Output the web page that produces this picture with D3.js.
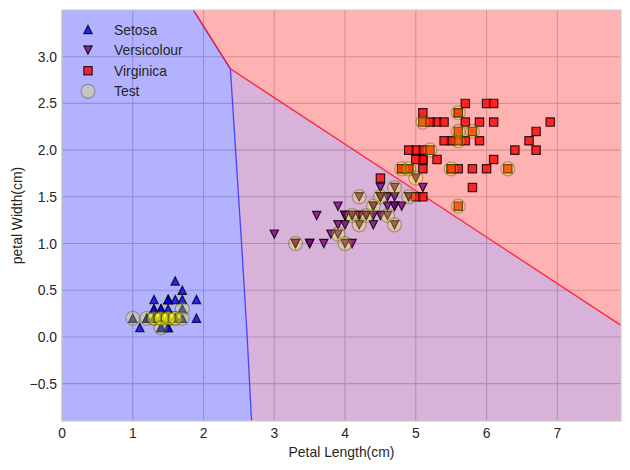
<!DOCTYPE html>
<html>
<head>
<meta charset="utf-8">
<title>Iris decision regions</title>
<style>
  body { margin: 0; background: #fff; }
  text { font-family: "Liberation Sans", Arial, sans-serif; fill: #262626; }
</style>
</head>
<body>
<script src="https://cdn.jsdelivr.net/npm/d3@7/dist/d3.min.js"></script>
<script>
// petal length / petal width, per class
var classes = ["Setosa", "Versicolour", "Virginica"];
var setosa = [[1.4,0.2],[1.4,0.2],[1.3,0.2],[1.5,0.2],[1.4,0.2],[1.7,0.4],[1.4,0.3],[1.5,0.2],[1.4,0.2],[1.5,0.1],
  [1.5,0.2],[1.6,0.2],[1.4,0.1],[1.1,0.1],[1.2,0.2],[1.5,0.4],[1.3,0.4],[1.4,0.3],[1.7,0.3],[1.5,0.3],
  [1.7,0.2],[1.5,0.4],[1.0,0.2],[1.7,0.5],[1.9,0.2],[1.6,0.2],[1.6,0.4],[1.5,0.2],[1.4,0.2],[1.6,0.2],
  [1.6,0.2],[1.5,0.4],[1.5,0.1],[1.4,0.2],[1.5,0.2],[1.2,0.2],[1.3,0.2],[1.4,0.1],[1.3,0.2],[1.5,0.2],
  [1.3,0.3],[1.3,0.3],[1.3,0.2],[1.6,0.6],[1.9,0.4],[1.4,0.3],[1.6,0.2],[1.4,0.2],[1.5,0.2],[1.4,0.2]];
var versicolour = [[4.7,1.4],[4.5,1.5],[4.9,1.5],[4.0,1.3],[4.6,1.5],[4.5,1.3],[4.7,1.6],[3.3,1.0],[4.6,1.3],[3.9,1.4],
  [3.5,1.0],[4.2,1.5],[4.0,1.0],[4.7,1.4],[3.6,1.3],[4.4,1.4],[4.5,1.5],[4.1,1.0],[4.5,1.5],[3.9,1.1],
  [4.8,1.8],[4.0,1.3],[4.9,1.5],[4.7,1.2],[4.3,1.3],[4.4,1.4],[4.8,1.4],[5.0,1.7],[4.5,1.5],[3.5,1.0],
  [3.8,1.1],[3.7,1.0],[3.9,1.2],[5.1,1.6],[4.5,1.5],[4.5,1.6],[4.7,1.5],[4.4,1.3],[4.1,1.3],[4.0,1.3],
  [4.4,1.2],[4.6,1.4],[4.0,1.2],[3.3,1.0],[4.2,1.3],[4.2,1.2],[4.2,1.3],[4.3,1.3],[3.0,1.1],[4.1,1.3]];
var virginica = [[6.0,2.5],[5.1,1.9],[5.9,2.1],[5.6,1.8],[5.8,2.2],[6.6,2.1],[4.5,1.7],[6.3,1.8],[5.8,1.8],[6.1,2.5],
  [5.1,2.0],[5.3,1.9],[5.5,2.1],[5.0,2.0],[5.1,2.4],[5.3,2.3],[5.5,1.8],[6.7,2.2],[6.9,2.3],[5.0,1.5],
  [5.7,2.3],[4.9,2.0],[6.7,2.0],[4.9,1.8],[5.7,2.1],[6.0,1.8],[4.8,1.8],[4.9,1.8],[5.6,2.1],[5.8,1.6],
  [6.1,1.9],[6.4,2.0],[5.6,2.2],[5.1,1.5],[5.6,1.4],[6.1,2.3],[5.6,2.4],[5.5,1.8],[4.8,1.8],[5.4,2.1],
  [5.6,2.4],[5.1,2.3],[5.1,1.9],[5.9,2.3],[5.7,2.5],[5.2,2.3],[5.0,1.9],[5.2,2.0],[5.4,2.3],[5.1,1.8]];
var testSet = [[1.0,0.2],[1.2,0.2],[1.3,0.2],[1.3,0.2],[1.4,0.2],[1.4,0.2],[1.4,0.2],[1.5,0.2],[1.5,0.2],[1.5,0.2],
  [1.6,0.2],[1.6,0.2],[1.4,0.1],[1.7,0.3],[1.7,0.2],
  [3.3,1.0],[3.9,1.1],[4.0,1.0],[4.1,1.3],[4.2,1.2],[4.2,1.5],[4.3,1.3],[4.4,1.4],[4.5,1.5],[4.6,1.3],
  [4.7,1.2],[4.7,1.6],[4.9,1.5],[5.0,1.7],
  [5.1,2.3],[5.2,2.0],[5.5,1.8],[5.6,1.4],[5.6,2.1],[5.6,2.2],[5.6,2.4],[5.8,2.2],[4.8,1.8],[4.9,1.8],[6.3,1.8]];

var xTicks = [0, 1, 2, 3, 4, 5, 6, 7];
var yTicks = [-0.5, 0.0, 0.5, 1.0, 1.5, 2.0, 2.5, 3.0];
var xDomain = [0, 7.9];
var yDomain = [-0.9, 3.5];

// decision boundaries (data units)
var edgeBlueRed = [[1.855, 3.5], [2.38, 2.87]];
var edgeBluePurple = [[2.38, 2.87], [2.453, 2.0], [2.538, 1.0], [2.617, 0.0], [2.679, -0.9]];
var edgePurpleRed = [[2.38, 2.87], [7.9, 0.123]];

var width = 630, height = 470;
var margin = {left: 62, top: 10, right: 9, bottom: 49};

var svg = d3.select("body").append("svg")
    .attr("width", width)
    .attr("height", height);

var x = d3.scaleLinear().domain(xDomain).range([margin.left, width - margin.right]);
var y = d3.scaleLinear().domain(yDomain).range([height - margin.bottom, margin.top]);

// grid under the regions
var grid = svg.append("g");
grid.selectAll(".gx").data(xTicks).enter().append("line")
    .attr("x1", function (d) { return x(d); }).attr("x2", function (d) { return x(d); })
    .attr("y1", y(yDomain[0])).attr("y2", y(yDomain[1]))
    .attr("stroke", "#cccccc").attr("stroke-width", 1.1);
grid.selectAll(".gy").data(yTicks).enter().append("line")
    .attr("y1", function (d) { return y(d); }).attr("y2", function (d) { return y(d); })
    .attr("x1", x(xDomain[0])).attr("x2", x(xDomain[1]))
    .attr("stroke", "#cccccc").attr("stroke-width", 1.1);

var line = d3.line().x(function (d) { return x(d[0]); }).y(function (d) { return y(d[1]); });

var bluePoly = [[xDomain[0], yDomain[1]]].concat(edgeBlueRed, edgeBluePurple.slice(1), [[xDomain[0], yDomain[0]]]);
var redPoly = [edgeBlueRed[0], [xDomain[1], yDomain[1]], edgePurpleRed[1], edgePurpleRed[0]];
var purplePoly = [edgePurpleRed[0], edgePurpleRed[1], [xDomain[1], yDomain[0]]].concat(edgeBluePurple.slice().reverse());

var regions = svg.append("g");
[[bluePoly, "blue"], [purplePoly, "purple"], [redPoly, "red"]].forEach(function (r) {
    regions.append("path")
        .attr("d", line(r[0]) + "Z")
        .attr("fill", r[1])
        .attr("fill-opacity", 0.3);
});
regions.append("path").attr("d", line(edgeBlueRed.concat(edgeBluePurple.slice(1))))
    .attr("fill", "none").attr("stroke", "#3030ff").attr("stroke-opacity", 0.85).attr("stroke-width", 1.3);
regions.append("path").attr("d", line([edgeBlueRed[0], edgeBlueRed[1], edgePurpleRed[1]]))
    .attr("fill", "none").attr("stroke", "#ff1030").attr("stroke-opacity", 0.85).attr("stroke-width", 1.4);

// spines
svg.append("rect")
    .attr("x", x(xDomain[0])).attr("y", y(yDomain[1]))
    .attr("width", x(xDomain[1]) - x(xDomain[0]))
    .attr("height", y(yDomain[0]) - y(yDomain[1]))
    .attr("fill", "none").attr("stroke", "#cccccc").attr("stroke-width", 1.25);

// marker shapes (pixel offsets)
var ms = 8.33, h = ms / 2;
var markerPath = {
    up: "M0," + (-h) + "L" + (-h) + "," + h + "L" + h + "," + h + "Z",
    down: "M0," + h + "L" + (-h) + "," + (-h) + "L" + h + "," + (-h) + "Z",
    square: "M" + (-h) + "," + (-h) + "h" + ms + "v" + ms + "h" + (-ms) + "Z"
};
var series = [
    {name: classes[0], data: setosa, color: "blue", shape: "up"},
    {name: classes[1], data: versicolour, color: "purple", shape: "down"},
    {name: classes[2], data: virginica, color: "red", shape: "square"}
];

series.forEach(function (s) {
    svg.append("g").selectAll("path").data(s.data).enter().append("path")
        .attr("d", markerPath[s.shape])
        .attr("transform", function (d) { return "translate(" + x(d[0]) + "," + y(d[1]) + ")"; })
        .attr("fill", s.color).attr("fill-opacity", 0.8)
        .attr("stroke", "black").attr("stroke-opacity", 0.8).attr("stroke-width", 1.2);
});

var testR = 6.95;
svg.append("g").selectAll("circle").data(testSet).enter().append("circle")
    .attr("cx", function (d) { return x(d[0]); })
    .attr("cy", function (d) { return y(d[1]); })
    .attr("r", testR)
    .attr("fill", "yellow").attr("fill-opacity", 0.25)
    .attr("stroke", "black").attr("stroke-opacity", 0.25).attr("stroke-width", 1.3);

// axes tick labels
var fs = 13.9;
svg.append("g").selectAll("text").data(xTicks).enter().append("text")
    .attr("x", function (d) { return x(d); })
    .attr("y", y(yDomain[0]) + 16.5)
    .attr("text-anchor", "middle").attr("font-size", fs)
    .text(function (d) { return d3.format("d")(d); });
svg.append("g").selectAll("text").data(yTicks).enter().append("text")
    .attr("x", x(xDomain[0]) - 5)
    .attr("y", function (d) { return y(d) + 5; })
    .attr("text-anchor", "end").attr("font-size", fs)
    .text(function (d) { return d3.format(".1f")(d).replace("-", "\u2212"); });

svg.append("text")
    .attr("x", (x(xDomain[0]) + x(xDomain[1])) / 2)
    .attr("y", 457)
    .attr("text-anchor", "middle").attr("font-size", fs)
    .text("Petal Length(cm)");
svg.append("text")
    .attr("transform", "translate(22," + ((y(yDomain[0]) + y(yDomain[1])) / 2) + ") rotate(-90)")
    .attr("text-anchor", "middle").attr("font-size", fs)
    .text("petal Width(cm)");

// legend (no frame)
var legendItems = series.map(function (s) { return {name: s.name, s: s}; });
legendItems.push({name: "Test", s: null});
var lg = svg.append("g");
legendItems.forEach(function (it, i) {
    var cy = 29.5 + i * 20.6;
    if (it.s) {
        lg.append("path").attr("d", markerPath[it.s.shape])
            .attr("transform", "translate(88," + cy + ")")
            .attr("fill", it.s.color).attr("fill-opacity", 0.8)
            .attr("stroke", "black").attr("stroke-opacity", 0.8).attr("stroke-width", 1.2);
    } else {
        lg.append("circle").attr("cx", 88).attr("cy", cy).attr("r", testR)
            .attr("fill", "yellow").attr("fill-opacity", 0.25)
            .attr("stroke", "black").attr("stroke-opacity", 0.25).attr("stroke-width", 1.3);
    }
    lg.append("text").attr("x", 114).attr("y", cy + 5)
        .attr("font-size", fs).text(it.name);
});
</script>
</body>
</html>
